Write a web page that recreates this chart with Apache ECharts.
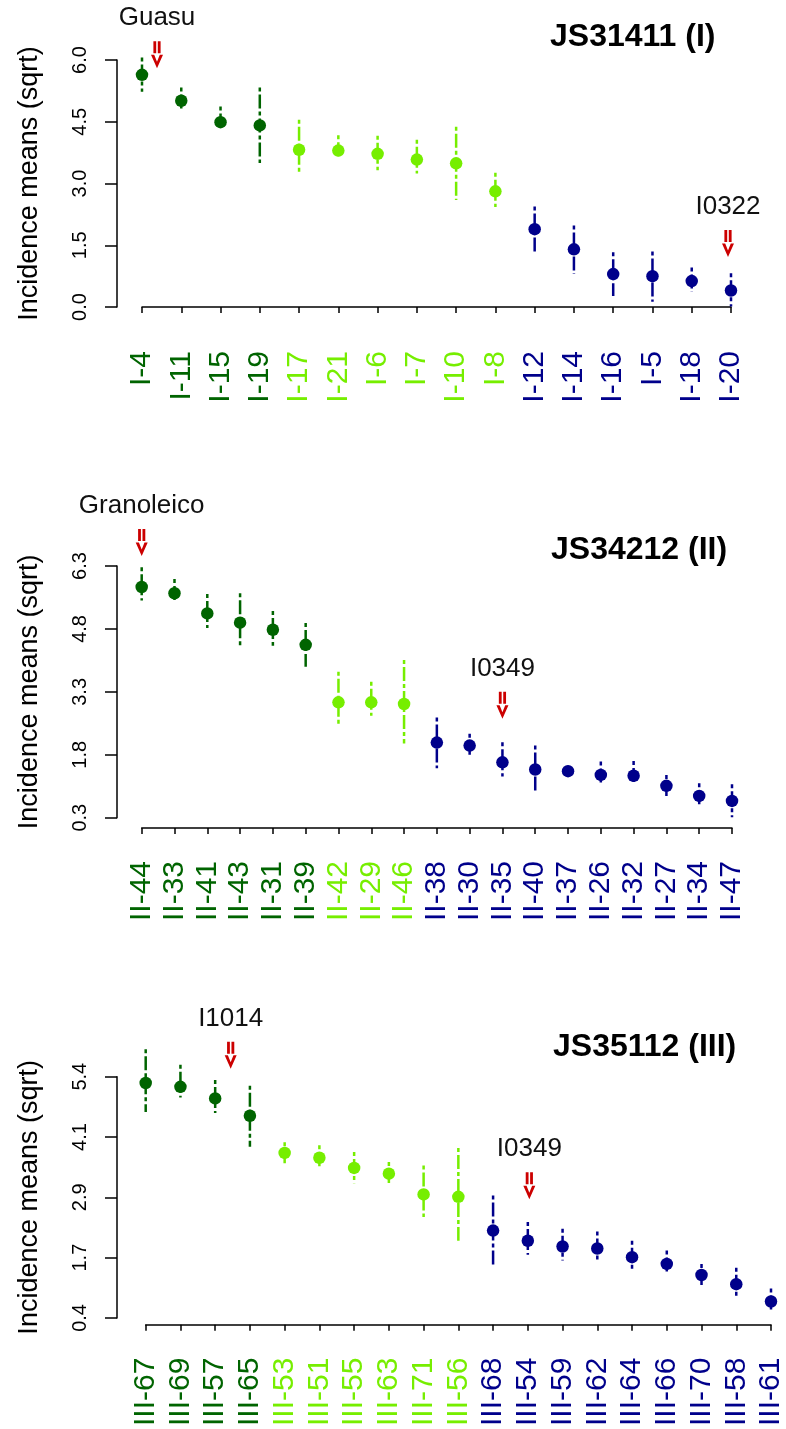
<!DOCTYPE html>
<html><head><meta charset="utf-8">
<script src="https://cdn.jsdelivr.net/npm/echarts@6/dist/echarts.min.js"></script>
<style>html,body{margin:0;padding:0;background:#fff}#c{width:786px;height:1429px}</style>
</head><body><div id="c"></div>
<script>
// ---------- DATA ----------
const p1Title = 'JS31411 (I)';
const p1Cats = ['I-4','I-11','I-15','I-19','I-17','I-21','I-6','I-7','I-10','I-8','I-12','I-14','I-16','I-5','I-18','I-20'];
const p1Groups = [0,0,0,0,1,1,1,1,1,1,2,2,2,2,2,2];
const p1Mean = [5.64,5.01,4.49,4.41,3.82,3.80,3.72,3.58,3.49,2.81,1.89,1.40,0.80,0.75,0.63,0.40];
const p1Low  = [5.23,4.77,4.31,3.50,3.24,3.60,3.32,3.24,2.60,2.43,1.33,0.80,0.27,0.13,0.37,0.01];
const p1High = [6.06,5.33,4.87,5.33,4.55,4.17,4.16,4.06,4.38,3.26,2.44,1.98,1.33,1.35,0.96,0.82];
const p1TickVals = [0,1.5,3,4.5,6];
const p1TickLabels = ['0.0','1.5','3.0','4.5','6.0'];
const p1Notes = [{name:'Guasu', cat:'I-4', y:6.13},{name:'I0322', cat:'I-20', y:1.545}];

const p2Title = 'JS34212 (II)';
const p2Cats = ['II-44','II-33','II-41','II-43','II-31','II-39','II-42','II-29','II-46','II-38','II-30','II-35','II-40','II-37','II-26','II-32','II-27','II-34','II-47'];
const p2Groups = [0,0,0,0,0,0,1,1,1,2,2,2,2,2,2,2,2,2,2];
const p2Mean = [5.80,5.65,5.17,4.95,4.78,4.42,3.05,3.05,3.01,2.09,2.02,1.62,1.45,1.41,1.32,1.30,1.06,0.82,0.70];
const p2Low  = [5.48,5.43,4.82,4.39,4.40,3.90,2.51,2.73,2.07,1.48,1.75,1.28,0.88,1.29,1.08,1.10,0.80,0.56,0.31];
const p2High = [6.27,5.99,5.63,5.65,5.23,4.94,3.78,3.54,4.06,2.69,2.30,2.10,2.02,1.54,1.64,1.65,1.32,1.12,1.10];
const p2TickVals = [0.3,1.8,3.3,4.8,6.3];
const p2TickLabels = ['0.3','1.8','3.3','4.8','6.3'];
const p2Notes = [{name:'Granoleico', cat:'II-44', y:6.86},{name:'I0349', cat:'II-35', y:2.98}];

const p3Title = 'JS35112 (III)';
const p3Cats = ['III-67','III-69','III-57','III-65','III-53','III-51','III-55','III-63','III-71','III-56','III-68','III-54','III-59','III-62','III-64','III-66','III-70','III-58','III-61'];
const p3Groups = [0,0,0,0,1,1,1,1,1,1,2,2,2,2,2,2,2,2,2];
const p3Mean = [5.27,5.19,4.95,4.59,3.82,3.72,3.51,3.39,2.96,2.91,2.21,2.00,1.88,1.84,1.66,1.52,1.29,1.10,0.74];
const p3Low  = [4.67,4.97,4.65,3.95,3.59,3.51,3.19,3.16,2.49,2.00,1.46,1.71,1.59,1.56,1.40,1.32,1.06,0.80,0.53];
const p3High = [5.97,5.65,5.33,5.21,4.04,3.98,3.84,3.63,3.56,3.92,2.94,2.39,2.25,2.19,2.00,1.80,1.52,1.44,1.01];
const p3TickVals = [0.4,1.65,2.9,4.15,5.4];
const p3TickLabels = ['0.4','1.7','2.9','4.1','5.4'];
const p3Notes = [{name:'I1014', cat:'III-57', y:5.83},{name:'I0349', cat:'III-54', y:3.14}];

const yName = 'Incidence means (sqrt)';

// ---------- STYLE / LAYOUT ----------
const COLORS = ['#006400','#76EE00','#00008B'];
const FONT = '"Liberation Sans", Arial, Helvetica, sans-serif';
const ARROW = 'path://M2.4,0 L5.2,0 L5.2,12 L2.4,12 Z M6.8,0 L9.6,0 L9.6,12 L6.8,12 Z M0,13.5 L3.2,13.5 L6,20.5 L8.8,13.5 L12,13.5 L6,27 Z';

const panels = [
  {title:p1Title, cats:p1Cats, groups:p1Groups, mean:p1Mean, low:p1Low, high:p1High, tickVals:p1TickVals, tickLabels:p1TickLabels, notes:p1Notes},
  {title:p2Title, cats:p2Cats, groups:p2Groups, mean:p2Mean, low:p2Low, high:p2High, tickVals:p2TickVals, tickLabels:p2TickLabels, notes:p2Notes},
  {title:p3Title, cats:p3Cats, groups:p3Groups, mean:p3Mean, low:p3Low, high:p3High, tickVals:p3TickVals, tickLabels:p3TickLabels, notes:p3Notes}
];
const layout = [
  {left:142, right:55, top:60, height:247, xOffset:11, yOffset:25, titleX:550, titleY:37, noteDx:[15,-3]},
  {left:141.7, right:54, top:566, height:251.7, xOffset:10.3, yOffset:24.7, titleX:551, titleY:550, noteDx:[0,0]},
  {left:145.7, right:15, top:1076.7, height:249.3, xOffset:6.7, yOffset:28.7, titleX:553, titleY:1047, noteDx:[15.5,1.5]}
];

const grid = [], xAxis = [], yAxis = [], series = [], graphic = [];
const rich = {};
COLORS.forEach((c,i)=>{ rich['g'+i] = {color:c, fontSize:30, fontFamily:FONT}; });

panels.forEach((p, k) => {
  const L = layout[k];
  const tv = p.tickVals, tl = p.tickLabels;
  const yMin = tv[0], yMax = tv[tv.length-1];
  const pxPerUnit = L.height / (yMax - yMin);
  grid.push({left:L.left, right:L.right, top:L.top, height:L.height, containLabel:false});
  xAxis.push({
    type:'category', gridIndex:k, data:p.cats, boundaryGap:false, offset:L.xOffset,
    axisLine:{show:true, lineStyle:{color:'#000', width:1.5}},
    axisTick:{show:true, length:6, alignWithLabel:true, interval:0, lineStyle:{color:'#000', width:1.5}},
    axisLabel:{interval:0, rotate:90, margin:33, formatter:(v,i)=>'{g'+p.groups[i]+'|'+v+'}', rich:rich},
    splitLine:{show:false}
  });
  yAxis.push({
    type:'value', gridIndex:k, min:yMin, max:yMax, offset:L.yOffset,
    name:yName, nameLocation:'middle', nameRotate:90, nameGap:74,
    nameTextStyle:{fontSize:27, fontFamily:FONT, color:'#000'},
    axisLine:{show:true, lineStyle:{color:'#000', width:1.5}},
    axisTick:{show:true, length:12, customValues:tv, lineStyle:{color:'#000', width:1.5}},
    axisLabel:{rotate:90, margin:27, fontSize:20, fontFamily:FONT, color:'#000', customValues:tv,
      formatter:(v)=>{ let j=0, d=1e9; tv.forEach((t,ii)=>{ if(Math.abs(t-v)<d){d=Math.abs(t-v); j=ii;} }); return tl[j]; }},
    splitLine:{show:false}
  });
  series.push({
    type:'custom', xAxisIndex:k, yAxisIndex:k, clip:false, z:2,
    data:p.cats.map((c,i)=>[i, p.low[i], p.high[i], p.groups[i]]),
    encode:{x:0, y:[1,2]},
    renderItem:(params, api)=>{
      const i = api.value(0);
      const a = api.coord([i, api.value(2)]);
      const b = api.coord([i, api.value(1)]);
      return {type:'line', shape:{x1:a[0], y1:a[1], x2:b[0], y2:b[1]},
        style:{stroke:COLORS[api.value(3)], lineWidth:2.5, lineDash:[4,3,14,3]}};
    }
  });
  series.push({
    type:'scatter', xAxisIndex:k, yAxisIndex:k, z:3, symbolSize:12.5, clip:false,
    data:p.mean.map((m,i)=>({value:[i,m], itemStyle:{color:COLORS[p.groups[i]], opacity:1}})),
    markPoint:{
      symbol:ARROW, symbolSize:[12,27], symbolKeepAspect:false,
      itemStyle:{color:'#CC0000', opacity:1},
      label:{show:true, position:'top', distance:10, formatter:'{b}', color:'#111', fontSize:26, fontFamily:FONT},
      data:p.notes.map((n,j)=>{
        // anchor inside the axis range; any excess above the top tick becomes a vertical shift
        const yc = Math.min(n.y, yMax);
        const dy = -(n.y - yc) * pxPerUnit;
        return {name:n.name, coord:[n.cat, yc], symbolOffset:[L.noteDx[j], dy]};
      })
    }
  });
  graphic.push({type:'text', x:L.titleX, y:L.titleY, style:{text:p.title, font:'bold 32px '+FONT, fill:'#000', verticalAlign:'middle'}});
});

const chart = echarts.init(document.getElementById('c'), null, {renderer:'canvas'});
chart.setOption({animation:false, backgroundColor:'#fff', grid, xAxis, yAxis, series, graphic});
</script>
</body></html>
